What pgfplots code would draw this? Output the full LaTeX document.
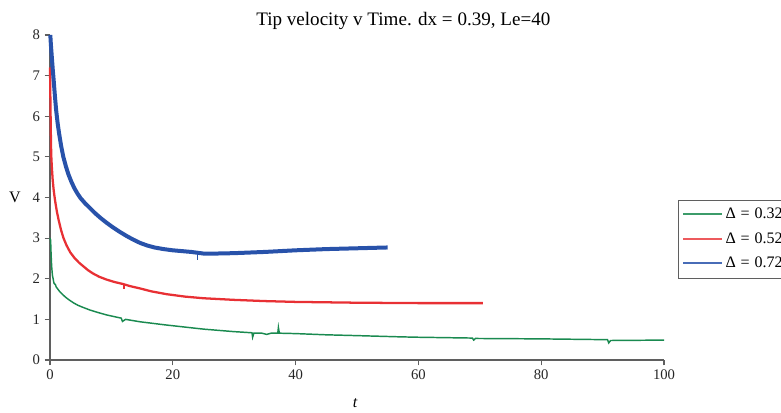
\documentclass[border=0pt]{standalone}
\usepackage{fontspec}
\setmainfont{Liberation Serif}
\usepackage{pgfplots}
\pgfplotsset{compat=1.18}

\definecolor{cgreen}{RGB}{26,138,80}
\definecolor{cred}{RGB}{232,48,52}
\definecolor{cblue}{RGB}{40,82,170}
\definecolor{caxis}{RGB}{95,95,95}

\newcommand{\dlabel}[1]{Δ\hspace{0.3em}=\hspace{0.3em}#1}

\begin{document}
\begin{tikzpicture}
\begin{axis}[
  at={(0,0)}, anchor=south west,
  scale only axis,
  width=460.5pt, height=243.75pt,
  xmin=0, xmax=100, ymin=0, ymax=8,
  axis lines=left,
  axis line style={caxis, line width=0.9pt, -},
  xtick={0,20,40,60,80,100},
  ytick={0,1,2,3,4,5,6,7,8},
  tick align=outside,
  major tick length=4pt,
  tick style={caxis, line width=0.9pt},
  /pgf/number format/assume math mode=true,
  ticklabel style={font=\fontsize{11}{13}\selectfont, text=black!85},
  clip=false,
  legend style={at={(1.0228,0.4935)}, anchor=north west,
    draw=caxis, fill=white,
    font=\fontsize{12}{14}\selectfont, row sep=5pt,
    inner xsep=3pt, inner ysep=4pt},
  legend cell align=left,
  legend image code/.code={\draw[#1] (0pt,0pt) -- (29pt,0pt);},
]
% legend samples, all drawn with the same stroke
\addlegendimage{cgreen!85, line width=1.5pt}
\addlegendentry{\dlabel{0.32}}
\addlegendimage{cred!80, line width=1.5pt}
\addlegendentry{\dlabel{0.52}}
\addlegendimage{cblue!85, line width=1.5pt}
\addlegendentry{\dlabel{0.72}}
% Delta = 0.32
\addplot[cgreen, line width=1.1pt, forget plot] coordinates {
(0,3.0) (0.1,2.95) (0.18,2.6) (0.27,2.3) (0.4,2.08) (0.65,1.89) (0.9,1.85)
(1.0,1.80) (1.3,1.74) (1.6,1.68) (2.0,1.62) (2.5,1.55) (3.1,1.48) (3.8,1.41)
(4.5,1.35) (5.3,1.30) (6.5,1.23) (7.8,1.17) (9.2,1.11) (10.4,1.07) (11.6,1.03)
(11.8,0.95) (12.3,1.0) (14.7,0.94) (19,0.86) (25,0.76) (29.8,0.70) (32.9,0.67)
(33.0,0.56) (33.2,0.66) (34.5,0.66) (35.3,0.63) (36,0.66) (37.1,0.66) (37.2,0.80)
(37.35,0.66) (40,0.65) (45,0.62) (50,0.60) (57,0.57) (60,0.56) (68.8,0.54)
(69,0.49) (69.3,0.53) (80,0.52) (90.8,0.50) (91.0,0.42) (91.3,0.48) (100,0.49)
};
% Delta = 0.52
\addplot[cred, line width=1.7pt, forget plot] coordinates {
(0,7.2) (0.05,6.6) (0.1,6.0) (0.15,5.45) (0.2,5.05) (0.3,4.75) (0.43,4.45)
(0.6,4.18) (0.8,3.95) (1.1,3.67) (1.4,3.45) (1.8,3.2) (2.2,3.0) (2.7,2.82)
(3.3,2.65) (4.0,2.51) (4.7,2.40) (5.4,2.31) (6.2,2.21) (7.0,2.13) (8.0,2.05)
(9.2,1.98) (10.5,1.92) (11.9,1.87) (13,1.82) (14.7,1.76) (16.5,1.69) (19,1.62)
(22,1.56) (25,1.52) (30,1.48) (35,1.45) (40,1.43) (50,1.41) (60,1.40) (70.5,1.40)
};
% Delta = 0.72
\addplot[cblue, line width=3pt, forget plot] coordinates {
(0.05,8.0) (0.15,7.75) (0.3,7.45) (0.45,7.15) (0.6,6.88) (0.8,6.5) (1.0,6.15)
(1.25,5.82) (1.5,5.56) (1.8,5.28) (2.17,5.0) (2.6,4.76) (3.0,4.57) (3.5,4.38)
(4.0,4.22) (4.5,4.09) (5.0,3.98) (5.7,3.86) (6.5,3.74) (7.3,3.62) (8.2,3.50)
(9.2,3.38) (10.2,3.27) (11.3,3.16) (12.5,3.05) (13.6,2.96) (14.7,2.88)
(15.8,2.82) (17,2.77) (18.5,2.73) (20,2.70) (21.5,2.68) (23,2.66) (24,2.64)
(25,2.62) (27,2.62) (30,2.63) (35,2.66) (40,2.70) (45,2.73) (50,2.75) (55,2.77)
};
% short glitches in the red and blue runs
\addplot[cred, line width=0.9pt, forget plot] coordinates {(12.05,1.86) (12.05,1.74)};
\addplot[cblue, line width=1.1pt, forget plot] coordinates {(24.05,2.62) (24.05,2.45)};
\end{axis}
\node[font=\fontsize{14.3}{16}\selectfont] at (265pt,254.5pt) {Tip velocity v Time. dx = 0.39, Le=40};
\node[font=\fontsize{12}{14}\selectfont] at (-26.25pt,122.25pt) {V};
\node[font=\fontsize{12}{14}\selectfont\itshape] at (228.75pt,-32.25pt) {t};
\pgfresetboundingbox
\useasboundingbox (-37.5pt,-39.75pt) rectangle (548.25pt,270pt);
\end{tikzpicture}
\end{document}
